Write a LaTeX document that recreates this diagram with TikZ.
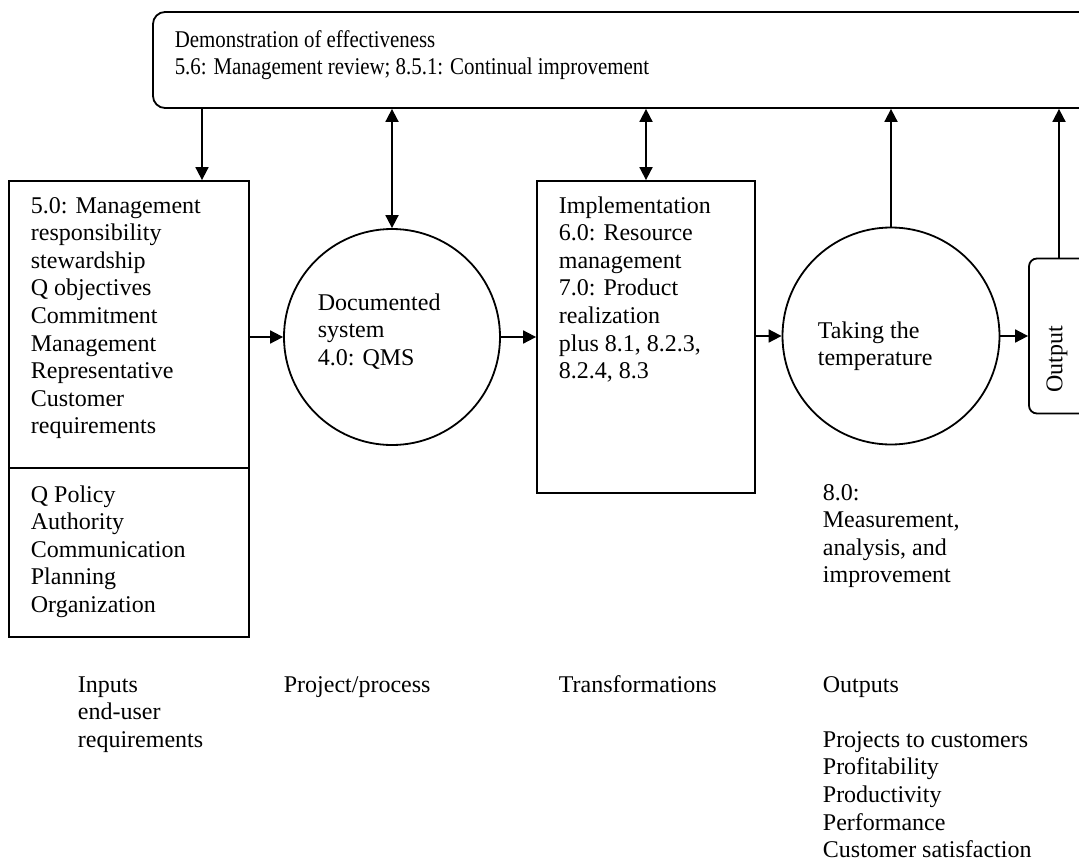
\documentclass[tikz,border=0pt]{standalone}
\usepackage{fontspec}
\setmainfont{Liberation Serif}
\usetikzlibrary{arrows.meta}
\begin{document}
\begin{tikzpicture}[x=1pt,y=-1pt,line width=1.8pt,
  tip/.tip={Triangle[length=13pt,width=13pt]},
  arr/.style={-tip},
  darr/.style={tip-tip},
  shapebox/.style={draw,inner sep=0pt},
  lbl/.style={inner sep=0pt,anchor=base west,align=left,
    font=\fontsize{24}{27.6}\selectfont}]
\useasboundingbox (0,0) rectangle (1079,862);
\clip (0,0) rectangle (1079,862);

% shapes
\node[shapebox,rounded corners=12pt,minimum width=957pt,minimum height=96pt] (top) at (631.5,60) {};
\node[shapebox,minimum width=240pt,minimum height=456pt] (inbox) at (129,409) {};
\node[shapebox,circle,minimum size=216pt] (doc) at (392,337) {};
\node[shapebox,minimum width=218pt,minimum height=312pt] (impl) at (646,337) {};
\node[shapebox,circle,minimum size=217pt] (temp) at (891,336) {};
\node[shapebox,rounded corners=8pt,minimum width=80pt,minimum height=155pt] (out) at (1069,336) {};

% divider in the input box
\coordinate (split) at (0,468);
\draw (inbox.west |- split) -- (inbox.east |- split);

% texts (each node is placed at the baseline of its last line)
\node[lbl,xscale=0.87] (toptxt) at (174,74.6) {Demonstration of effectiveness\\5.6: Management review; 8.5.1: Continual improvement};
\node[lbl] (intxt) at (30,433.8) {5.0: Management\\responsibility\\stewardship\\Q objectives\\Commitment\\Management\\Representative\\Customer\\requirements};
\node[lbl] (intxtb) at (30,612.4) {Q Policy\\Authority\\Communication\\Planning\\Organization};
\node[lbl] (doctxt) at (317,365.2) {Documented\\system\\4.0: QMS};
\node[lbl] (impltxt) at (558,378.6) {Implementation\\6.0: Resource\\management\\7.0: Product\\realization\\plus 8.1, 8.2.3,\\8.2.4, 8.3};
\node[lbl] (temptxt) at (817,365.6) {Taking the\\temperature};
\node[lbl] (meastxt) at (822,582.8) {8.0:\\Measurement,\\analysis, and\\improvement};
\node[inner sep=0pt,rotate=90,font=\fontsize{24}{27.6}\selectfont] (outtxt) at (1057,359) {Output};

\node[lbl] (lblin) at (77,747.2) {Inputs\\end-user\\requirements};
\node[lbl] (lblproj) at (283,692) {Project/process};
\node[lbl] (lbltrans) at (558,692) {Transformations};
\node[lbl] (lblout) at (822,857.6) {Outputs\\[27.6pt]Projects to customers\\Profitability\\Productivity\\Performance\\Customer satisfaction};

% connectors
\coordinate (xin) at (202,0);
\coordinate (xout) at (1059,0);
\draw[arr] (top.south -| xin) -- (inbox.north -| xin);
\draw[darr] (top.south -| doc) -- (doc.north);
\draw[darr] (top.south -| impl) -- (impl.north);
\draw[arr] (temp.north) -- (top.south -| temp);
\draw[arr] (out.north -| xout) -- (top.south -| xout);
\draw[arr] (inbox.east |- doc) -- (doc.west);
\draw[arr] (doc.east) -- (impl.west |- doc);
\draw[arr] (impl.east |- temp) -- (temp.west);
\draw[arr] (temp.east) -- (out.west |- temp);
\end{tikzpicture}
\end{document}
